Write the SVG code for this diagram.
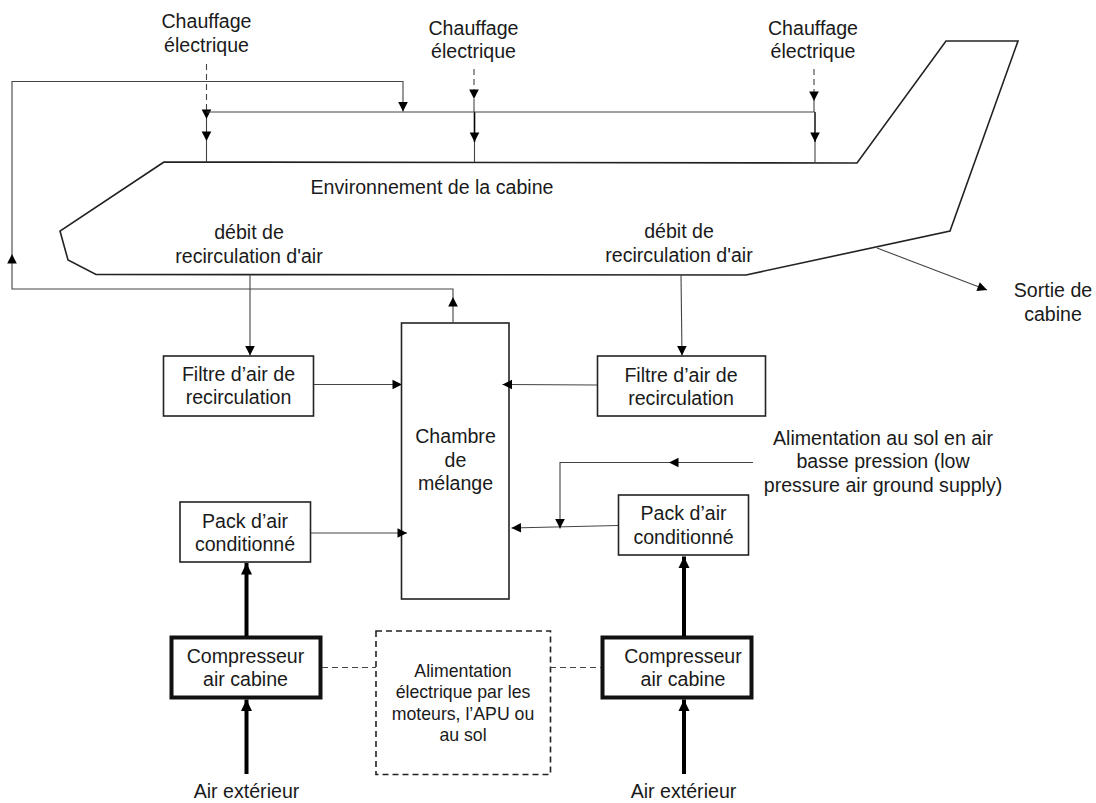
<svg xmlns="http://www.w3.org/2000/svg" width="1096" height="803" viewBox="0 0 1096 803">
<style>
text{font-family:"Liberation Sans",Arial,sans-serif;font-size:19.6px;fill:#1a1a1a;text-anchor:middle}
text.small{font-size:17.7px}
.box{fill:#fff;stroke:#222;stroke-width:1.6}
.heavy{fill:#fff;stroke:#111;stroke-width:4}
.dashbox{fill:#fff;stroke:#222;stroke-width:1.6;stroke-dasharray:6 4}
.body{fill:none;stroke:#222;stroke-width:1.6;stroke-linejoin:miter}
.c{fill:none;stroke:#444;stroke-width:1.1}
.a{marker-end:url(#ah)}
.d{stroke-dasharray:6 4}
.t{fill:none;stroke:#000;stroke-width:4;marker-end:url(#th)}
</style>
<defs>
<marker id="ah" markerUnits="userSpaceOnUse" markerWidth="11" markerHeight="11" refX="10" refY="5.500" orient="auto"><path d="M0.500 0.700L10 5.500L0.500 10.300Z" fill="#000"/></marker>
<marker id="th" markerUnits="userSpaceOnUse" markerWidth="12" markerHeight="12" refX="11.500" refY="6" orient="auto"><path d="M0 0.500L11.500 6L0 11.500Z" fill="#000"/></marker>
</defs>
<g id="cabine">
<path class="body" d="M164 162L60 231L68 260L96 274.500L746 275L950 231L1018 41L946 41L857 163Z"/>
<text x="432" y="193.500">Environnement de la cabine</text>
</g>
<g id="label-chauffage-1"><text x="206.500" y="28">Chauffage</text><text x="206.500" y="51.500">électrique</text></g>
<g id="label-chauffage-2"><text x="473.500" y="35">Chauffage</text><text x="473.500" y="58">électrique</text></g>
<g id="label-chauffage-3"><text x="813" y="35">Chauffage</text><text x="813" y="58">électrique</text></g>
<g id="label-debit-1"><text x="249" y="239">débit de</text><text x="249" y="263">recirculation d'air</text></g>
<g id="label-debit-2"><text x="679" y="238">débit de</text><text x="679" y="262">recirculation d'air</text></g>
<g id="label-sortie"><text x="1053" y="297">Sortie de</text><text x="1053" y="321">cabine</text></g>
<g id="filtre-gauche"><rect class="box" x="163.500" y="356" width="150" height="60"/><text x="238.500" y="380.500">Filtre d’air de</text><text x="238.500" y="404">recirculation</text></g>
<g id="filtre-droit"><rect class="box" x="597.500" y="356" width="168" height="60"/><text x="681" y="381.500">Filtre d’air de</text><text x="681" y="405">recirculation</text></g>
<g id="chambre"><rect class="box" x="401.500" y="323" width="107.500" height="276"/><text x="455.500" y="443">Chambre</text><text x="455.500" y="466.500">de</text><text x="455.500" y="490">mélange</text></g>
<g id="pack-gauche"><rect class="box" x="180" y="502" width="130.500" height="60"/><text x="245" y="527.500">Pack d’air</text><text x="245" y="550.500">conditionné</text></g>
<g id="pack-droit"><rect class="box" x="618.500" y="495" width="130" height="60"/><text x="683.500" y="520">Pack d’air</text><text x="683.500" y="543.500">conditionné</text></g>
<g id="label-sol"><text x="883" y="444.500">Alimentation au sol en air</text><text x="883" y="468">basse pression (low</text><text x="883" y="491.500">pressure air ground supply)</text></g>
<g id="compresseur-gauche"><rect class="heavy" x="171.500" y="637.500" width="149" height="60"/><text x="245.500" y="662.500">Compresseur</text><text x="245.500" y="686">air cabine</text></g>
<g id="compresseur-droit"><rect class="heavy" x="602.500" y="637.500" width="149" height="60"/><text x="683" y="662.500">Compresseur</text><text x="683" y="686">air cabine</text></g>
<g id="alimentation"><rect class="dashbox" x="376" y="631" width="174.500" height="143.500"/><text class="small" x="463" y="677">Alimentation</text><text class="small" x="463" y="698">électrique par les</text><text class="small" x="463" y="719.500">moteurs, l’APU ou</text><text class="small" x="463" y="741">au sol</text></g>
<g id="air-gauche"><text x="246.500" y="798">Air extérieur</text></g>
<g id="air-droit"><text x="683.500" y="798">Air extérieur</text></g>
<g id="connectors">
<path class="c d a" d="M206.500 64V119"/>
<path class="c a" d="M206.500 119V141"/>
<path class="c" d="M206.500 141V162"/>
<path class="c d a" d="M474 69V99"/>
<path class="c" d="M474 99V112"/>
<path class="c a" style="stroke:#000;stroke-width:1.6" d="M474.500 112V142"/>
<path class="c" d="M474.500 142V162"/>
<path class="c d a" d="M814 69V101"/>
<path class="c" d="M814 101V112"/>
<path class="c a" style="stroke:#000;stroke-width:1.4" d="M815 112V142"/>
<path class="c" d="M815 142V163"/>
<path class="c" d="M206.500 112H815"/>
<path class="c a" d="M453 323V297"/>
<path class="c a" d="M453 297V289H12V254"/>
<path class="c a" d="M12 254V81.500H403V111.500"/>
<path class="c a" d="M250 274.500V355.500"/>
<path class="c a" d="M681 275L682 355.500"/>
<path class="c a" d="M877 248L987 290"/>
<path class="c a" d="M314 384.500H402"/>
<path class="c a" d="M597 385L502.500 384.500"/>
<path class="c a" d="M311 533H407"/>
<path class="c a" d="M618 525.500L511.500 528"/>
<path class="c a" d="M753 462.500H669"/>
<path class="c a" d="M669 462.500H560V528.500"/>
<path class="t" d="M246.500 636V563"/>
<path class="t" d="M684 636V556.500"/>
<path class="t" d="M246.500 774V699.500"/>
<path class="t" d="M684 774V699.500"/>
<path class="c d" d="M322 667.500H376"/>
<path class="c d" d="M550 667.500H601"/>
</g>
</svg>
